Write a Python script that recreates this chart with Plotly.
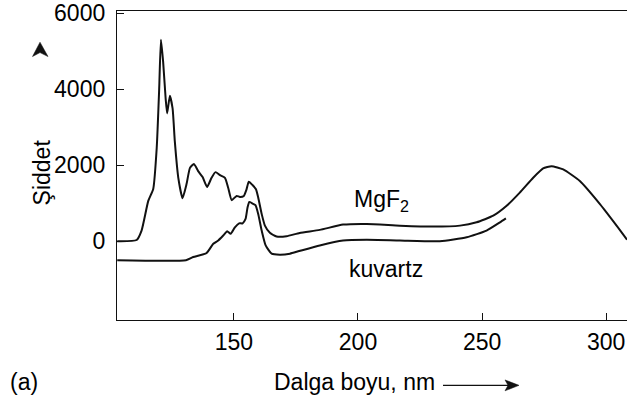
import plotly.graph_objects as go

# Emission spectra (intensity vs wavelength) seen through two window materials
mgf2_nm = [103.0, 110.8, 112.8, 115.5, 117.5, 118.9, 119.9, 120.6, 121.5, 122.5, 123.1,
           124.2, 125.3, 126.2, 127.6, 129.3, 130.9, 132.3, 133.9, 135.6, 137.4, 139.2,
           141.0, 142.6, 144.4, 146.4, 147.7, 149.1, 151.1, 152.4, 154.0, 155.1, 156.0,
           157.5, 158.9, 159.8, 161.2, 162.5, 164.5, 167.2, 171.2, 176.5, 184.6, 194.0,
           203.5, 216.9, 230.3, 241.1, 247.8, 254.5, 259.9, 265.2, 270.6, 274.6, 278.0,
           282.7, 289.4, 297.5, 304.2, 308.4]
mgf2_int = [0, 30, 280, 1060, 1374, 2452, 4016, 5305, 4713, 3756, 3364,
            3826, 3495, 2626, 1669, 1131, 1497, 1930, 2034, 1844, 1687, 1427,
            1669, 1818, 1740, 1669, 1408, 1080, 1192, 1166, 1192, 1366, 1565,
            1479, 1366, 1148, 715, 409, 219, 123, 130, 215, 297, 436,
            454, 409, 383, 409, 496, 670, 931, 1278, 1669, 1914, 1974,
            1888, 1583, 975, 409, 40]

kuvartz_nm = [103.0, 130.7, 133.6, 139.0, 141.7, 143.7, 145.7, 147.3, 148.7, 150.4,
              152.1, 153.5, 154.7, 155.5, 156.2, 157.5, 158.7, 159.8, 161.2, 162.8,
              165.2, 168.5, 172.6, 176.3, 184.6, 194.0, 203.5, 216.9, 233.0, 243.8,
              251.8, 257.2, 259.6]
kuvartz_int = [-500, -500, -417, -313, -68, 18, 149, 261, 193, 365,
               469, 469, 584, 887, 1035, 991, 949, 715, 279, -112,
               -329, -355, -329, -261, -112, 18, 37, 18, 0, 104,
               279, 496, 600]

x_ticks = [150, 200, 250, 300]
y_ticks = [0, 2000, 4000, 6000]

W, H = 627, 401
ML, MR, MT, MB = 117, 0, 8, 81
PW, PH = W - ML - MR, H - MT - MB

FONT = "Liberation Sans, Arial, sans-serif"
INK = "#111111"


def px(x):
    return (x - ML) / PW


def py(y):
    return (H - MB - y) / PH


fig = go.Figure()
line_style = dict(color=INK, width=2, shape="spline", smoothing=0.5)
fig.add_trace(go.Scatter(x=mgf2_nm, y=mgf2_int, mode="lines", line=line_style,
                         name="MgF2", showlegend=False, hoverinfo="skip"))
fig.add_trace(go.Scatter(x=kuvartz_nm, y=kuvartz_int, mode="lines", line=line_style,
                         name="kuvartz", showlegend=False, hoverinfo="skip"))

axis_common = dict(showgrid=False, zeroline=False, showline=True, linecolor=INK,
                   linewidth=1.3, ticks="inside", ticklen=7, tickwidth=1,
                   tickcolor=INK, ticklabeloverflow="allow",
                   tickfont=dict(family=FONT, size=23, color="#000"))

fig.update_xaxes(range=[102.9, 308.4], tickvals=x_ticks, mirror=True,
                 ticklabelstandoff=1, **axis_common)
fig.update_yaxes(range=[-2076, 6061], tickvals=y_ticks,
                 ticklabelstandoff=6, **axis_common)

ann_font = dict(family=FONT, size=23, color="#000")
annotations = [
    dict(text="Şiddet", x=px(42), y=py(171), textangle=-90),
    dict(text="Dalga boyu, nm", x=px(354), y=py(383)),
    dict(text="(a)", x=px(24), y=py(383)),
    dict(text="MgF<sub>2</sub>", x=px(381), y=py(199)),
    dict(text="kuvartz", x=px(386), y=py(268)),
]
for a in annotations:
    fig.add_annotation(xref="paper", yref="paper", showarrow=False,
                       xanchor="center", yanchor="middle", font=ann_font, **a)

# direction arrows beside the axis titles
shapes = [
    dict(type="line", x0=px(443), x1=px(508), y0=py(386), y1=py(386),
         line=dict(color=INK, width=1.3)),
    dict(type="path",
         path=f"M {px(519)},{py(386)} L {px(505)},{py(380.5)} L {px(508)},{py(386)} "
              f"L {px(505)},{py(391.5)} Z",
         fillcolor=INK, line=dict(color=INK, width=0.5)),
    dict(type="path",
         path=f"M {px(40)},{py(39.5)} L {px(48)},{py(54)} L {px(40)},{py(50)} "
              f"L {px(32.5)},{py(54)} Z",
         fillcolor=INK, line=dict(color=INK, width=0.5)),
]
for s in shapes:
    fig.add_shape(xref="paper", yref="paper", **s)

fig.update_layout(width=W, height=H, margin=dict(l=ML, r=MR, t=MT, b=MB),
                  paper_bgcolor="white", plot_bgcolor="white",
                  font=dict(family=FONT, color="#000"))

fig.write_html("out.html")
